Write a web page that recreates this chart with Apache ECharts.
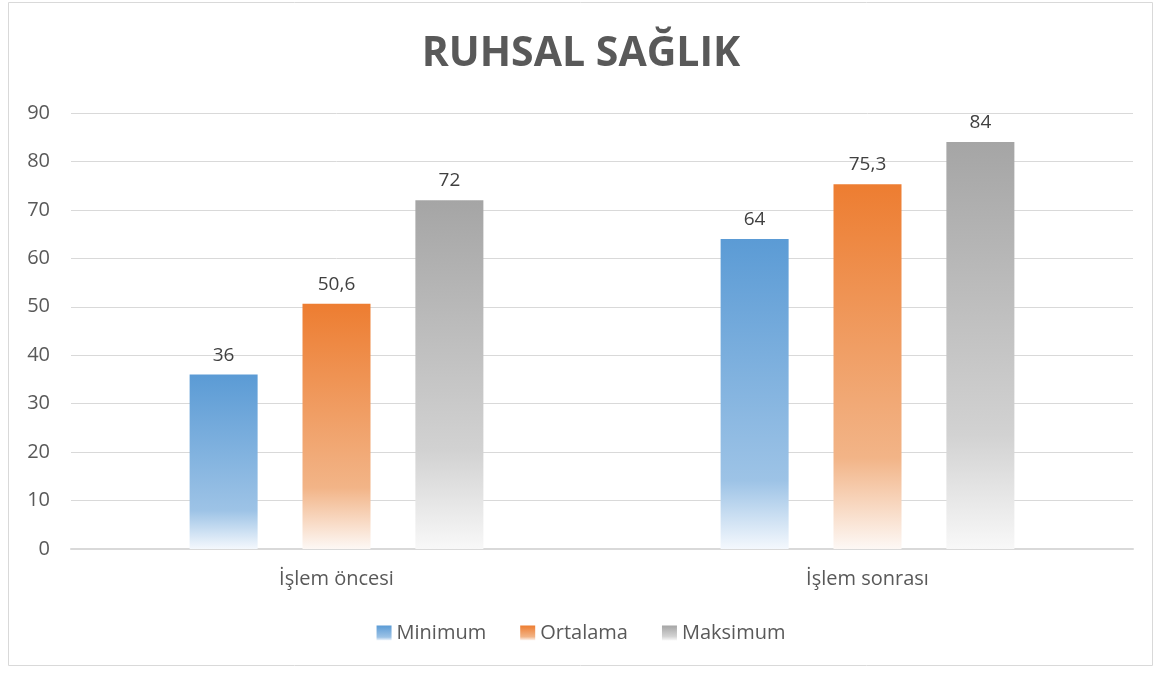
<!DOCTYPE html>
<html>
<head>
<meta charset="utf-8">
<script src="https://cdn.jsdelivr.net/npm/echarts@6/dist/echarts.min.js"></script>
<style>
  html, body { margin: 0; padding: 0; background: #fff; }
  #chart { width: 1162px; height: 675px; }
</style>
</head>
<body>
<div id="chart"></div>
<script>
const categories = ["İşlem öncesi", "İşlem sonrası"];
const minimum = [36, 64];
const ortalama = [50.6, 75.3];
const maksimum = [72, 84];
const yTicks = { min: 0, max: 90, interval: 10 };

const font = "'Open Sans', sans-serif";

// bar fill: solid colour on top, fading to near white at the base
function fade(top, mid, bottom, midStop) {
  return new echarts.graphic.LinearGradient(0, 0, 0, 1, [
    { offset: 0, color: top },
    { offset: midStop, color: mid },
    { offset: 1, color: bottom },
  ]);
}

function makeSeries(name, data, color) {
  return {
    name: name,
    type: "bar",
    data: data,
    barWidth: 68,
    barGap: "66%",
    itemStyle: { color: color },
    label: {
      show: true,
      position: "top",
      distance: 10,
      color: "#404040",
      fontFamily: font,
      fontSize: 19,
      formatter: (p) => String(p.value).replace(".", ","),
    },
  };
}

const chart = echarts.init(document.getElementById("chart"));
chart.setOption({
  animation: false,
  title: {
    text: "RUHSAL SAĞLIK",
    left: "center",
    top: 29,
    textStyle: {
      color: "#595959",
      fontFamily: font,
      fontWeight: "bold",
      fontSize: 41,
    },
  },
  graphic: [
    {
      type: "rect",
      shape: { x: 8.5, y: 2.5, width: 1144, height: 663 },
      style: { fill: "none", stroke: "#d9d9d9", lineWidth: 1 },
      silent: true,
    },
  ],
  legend: {
    bottom: 27,
    left: "center",
    itemWidth: 15,
    itemHeight: 15,
    itemGap: 34,
    icon: "rect",
    textStyle: { color: "#595959", fontFamily: font, fontSize: 20 },
  },
  grid: { left: 71, right: 29, top: 113, bottom: 126 },
  xAxis: {
    type: "category",
    data: categories,
    axisLine: { lineStyle: { color: "#d9d9d9", width: 2 } },
    axisTick: { show: false },
    axisLabel: { color: "#595959", fontFamily: font, fontSize: 20, margin: 20 },
  },
  yAxis: {
    type: "value",
    min: yTicks.min,
    max: yTicks.max,
    interval: yTicks.interval,
    axisLine: { show: false },
    axisTick: { show: false },
    splitLine: { lineStyle: { color: "#d9d9d9", width: 1 } },
    axisLabel: { color: "#595959", fontFamily: font, fontSize: 20, margin: 21 },
  },
  series: [
    makeSeries("Minimum", minimum, fade("#5b9bd5", "#9dc3e6", "#f4f8fd", 0.78)),
    makeSeries("Ortalama", ortalama, fade("#ed7d31", "#f2b487", "#fdf8f5", 0.75)),
    makeSeries("Maksimum", maksimum, fade("#a5a5a5", "#d2d2d2", "#f8f8f8", 0.72)),
  ],
});
</script>
</body>
</html>
